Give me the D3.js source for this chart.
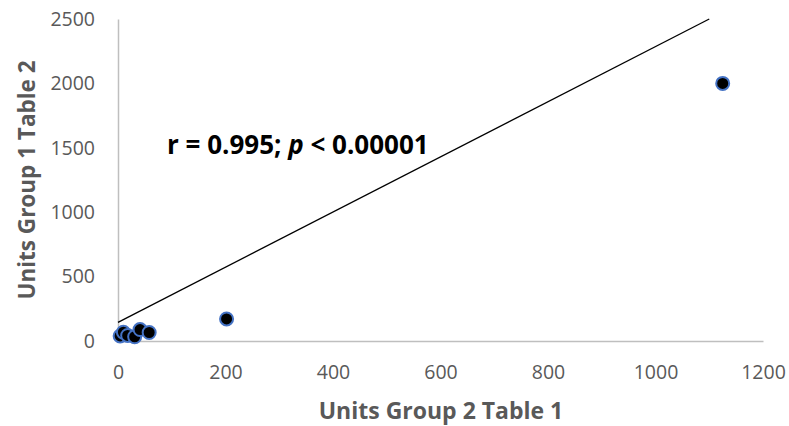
<!DOCTYPE html>
<html>
<head>
<meta charset="utf-8">
<script src="https://cdn.jsdelivr.net/npm/d3@7"></script>
<style>
  body { margin: 0; background: #fff; }
  text { font-family: "Open Sans", Lato, sans-serif; }
</style>
</head>
<body>
<svg id="chart"></svg>
<script>
const xVals = [4, 10, 18, 31, 41, 58, 202, 1125];
const yVals = [39, 68, 43, 33, 89, 66, 171, 2000];
const lineX = [0, 1100];
const lineY = [145, 2500];
const xTicks = [0, 200, 400, 600, 800, 1000, 1200];
const yTicks = [0, 500, 1000, 1500, 2000, 2500];

const size = { width: 789, height: 426 };
const margin = { left: 118, right: 26, top: 19, bottom: 85 };

const svg = d3.select("#chart")
  .attr("width", size.width)
  .attr("height", size.height);

const x = d3.scaleLinear()
  .domain([0, 1200])
  .range([margin.left, size.width - margin.right]);

const y = d3.scaleLinear()
  .domain([0, 2500])
  .range([size.height - margin.bottom, margin.top]);

// axes, no tick marks
const xAxis = svg.append("g")
  .attr("transform", `translate(0, ${y(0)})`)
  .call(d3.axisBottom(x).tickValues(xTicks).tickSize(0).tickPadding(24).tickFormat(d3.format("d")));
const yAxis = svg.append("g")
  .attr("transform", `translate(${x(0)}, 0)`)
  .call(d3.axisLeft(y).tickValues(yTicks).tickSize(0).tickPadding(23).tickFormat(d3.format("d")));

[xAxis, yAxis].forEach((g) => {
  g.select(".domain").attr("stroke", "#bfbfbf").attr("stroke-width", 1.5);
  g.selectAll("text")
    .attr("fill", "#595959")
    .style("font-size", "19.5px")
    .style("font-family", "'Open Sans', Lato, sans-serif");
});

// trend line
svg.append("line")
  .attr("x1", x(lineX[0]))
  .attr("y1", y(lineY[0]))
  .attr("x2", x(lineX[1]))
  .attr("y2", y(lineY[1]))
  .attr("stroke", "black")
  .attr("stroke-width", 1.3);

// points
svg.append("g")
  .selectAll("circle")
  .data(xVals.map((d, i) => [d, yVals[i]]))
  .join("circle")
  .attr("cx", (d) => x(d[0]))
  .attr("cy", (d) => y(d[1]))
  .attr("r", 6.5)
  .attr("fill", "black")
  .attr("stroke", "#4472c4")
  .attr("stroke-width", 2);

// axis titles
svg.append("text")
  .text("Units Group 2 Table 1")
  .attr("x", 441)
  .attr("y", 419)
  .attr("text-anchor", "middle")
  .attr("fill", "#595959")
  .style("font-size", "23px")
  .style("font-weight", "bold");

svg.append("text")
  .text("Units Group 1 Table 2")
  .attr("transform", "translate(35, 180) rotate(-90)")
  .attr("text-anchor", "middle")
  .attr("fill", "#595959")
  .style("font-size", "22.5px")
  .style("font-weight", "bold");

// annotation
const note = svg.append("text")
  .attr("x", 167)
  .attr("y", 154)
  .attr("fill", "black")
  .style("font-size", "26px")
  .style("font-weight", "bold");
note.append("tspan").text("r = 0.995; ");
note.append("tspan").text("p").style("font-style", "italic");
note.append("tspan").text(" < 0.00001");
</script>
</body>
</html>
